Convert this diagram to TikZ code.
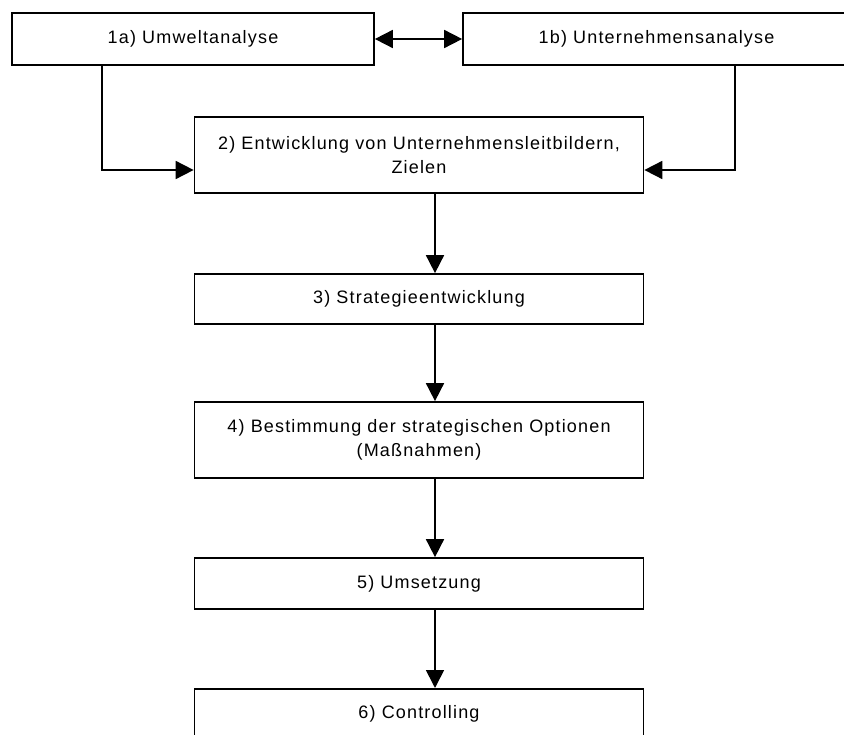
\documentclass[tikz,border=0pt]{standalone}
\usepackage{fontspec}
\setmainfont{Liberation Sans}[LetterSpace=6.5]
\usetikzlibrary{arrows.meta}
\begin{document}
\begin{tikzpicture}[x=1pt,y=-1pt,
  box/.style={draw,line width=1.7pt,fill=white,inner sep=0pt,align=center,
    font=\fontsize{18}{24}\selectfont},
  conn/.style={line width=1.7pt,-{Triangle[length=18pt,width=18pt]}},
  both/.style={line width=1.7pt,{Triangle[length=18pt,width=18pt]}-{Triangle[length=18pt,width=18pt]}}]
\clip (0,0) rectangle (844,735);
\useasboundingbox (0,0) rectangle (844,735);
\fill[white] (0,0) rectangle (844,735);
\node[box,minimum width=362pt,minimum height=52pt] (a) at (193,39) {1a) Umweltanalyse};
\node[box,minimum width=397pt,minimum height=52pt] (b) at (661.5,39) {\hspace*{-10pt}1b) Unternehmensanalyse};
\node[box,minimum width=449pt,minimum height=76pt] (z) at (419,155) {2) Entwicklung von Unternehmensleitbildern,\\Zielen};
\node[box,minimum width=449pt,minimum height=50pt] (s) at (419,299) {3) Strategieentwicklung};
\node[box,minimum width=449pt,minimum height=76pt] (o) at (419,440) {4) Bestimmung der strategischen Optionen\\(Maßnahmen)};
\node[box,minimum width=449pt,minimum height=51pt] (u) at (419,583.5) {5) Umsetzung};
\node[box,minimum width=449pt,minimum height=50pt,anchor=north] (c) at (419,688) {6) Controlling};
\coordinate (za) at (102,170);
\coordinate (zb) at (735,170);
\draw[both] (a.east) -- (b.west);
\draw[conn] (a.south -| za) -- (za) -- (za -| z.west);
\draw[conn] (b.south -| zb) -- (zb) -- (zb -| z.east);
\draw[conn] (z.south -| 435,0) -- (s.north -| 435,0);
\draw[conn] (s.south -| 435,0) -- (o.north -| 435,0);
\draw[conn] (o.south -| 435,0) -- (u.north -| 435,0);
\draw[conn] (u.south -| 435,0) -- (c.north -| 435,0);
\end{tikzpicture}
\end{document}
